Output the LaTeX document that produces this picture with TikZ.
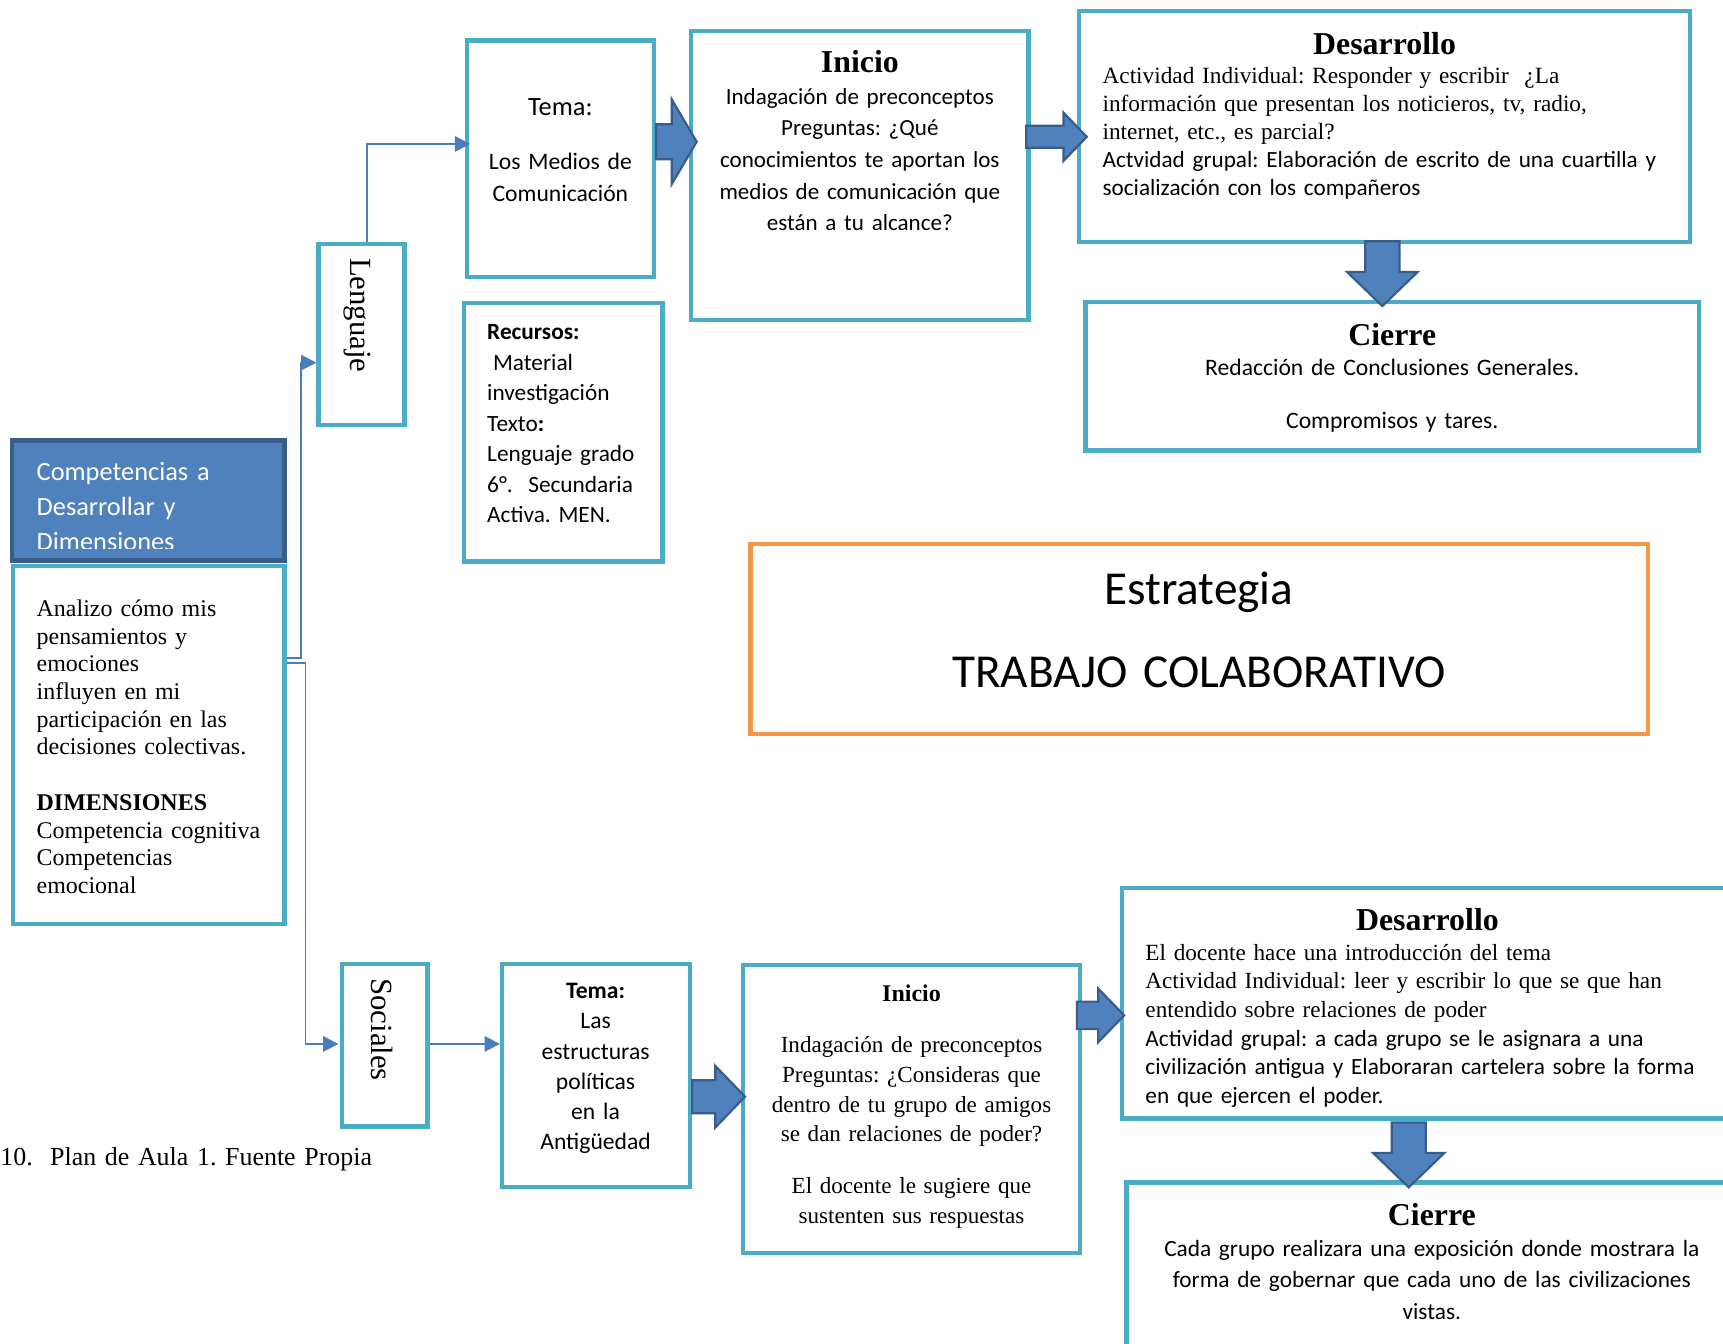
\documentclass[tikz,border=0pt]{standalone}
\usepackage{fontspec}
\setmainfont{Liberation Serif}
\setsansfont{Carlito}
\frenchspacing
\usetikzlibrary{arrows.meta,shapes.arrows,fit}
\definecolor{boxteal}{HTML}{4BACC6}
\definecolor{linkblue}{HTML}{4A7EBB}
\definecolor{arrowfill}{HTML}{4F81BD}
\definecolor{arrowline}{HTML}{385D8A}
\definecolor{stratorange}{HTML}{F79646}
\begin{document}
\begin{tikzpicture}[x=0.5pt,y=-0.5pt,
	tbox/.style={draw=boxteal,line width=2pt,inner sep=0pt},
	link/.style={draw=linkblue,line width=0.8pt,-{Triangle[length=7pt,width=7pt]}},
	bigarrow/.style={single arrow,draw=arrowline,fill=arrowfill,line width=1pt,inner xsep=0pt,anchor=tail,single arrow tip angle=92},
	ltxt/.style={inner sep=0pt,anchor=base west,align=left,text width=600pt},
	ctxt/.style={inner sep=0pt,anchor=base,align=center,text width=300pt}]
			\useasboundingbox (0,0) rectangle (1568,1223);
			\clip (0,0) rectangle (1568,1223);
			% rama Lenguaje
			\node[tbox,fit={(290,222) (368,387)}](leng){};
			\node[rotate=-90,font=\fontsize{14}{14}\selectfont] (lengtxt) at(325,287){Lenguaje};
			\node[tbox,fit={(425,37) (595,252)}](temaL){};
			\node[ctxt,font=\sffamily\fontsize{10.75}{14.5}\selectfont] (temaLtxt) at(510,105){{\fontsize{12}{14.5}\selectfont Tema:}\\[10.25pt]Los Medios de\\Comunicación};
			\node[tbox,fit={(422,276) (603,511)}](recur){};
			\node[ltxt,font=\sffamily\fontsize{10.6}{13.9}\selectfont] (recurtxt) at(443,309){\textbf{Recursos:}\\\hspace*{0.25em}Material\\investigación\\Texto\textbf{:}\\Lenguaje grado\\6°.\ \ Secundaria\\Activa. MEN.};
			\node[tbox,fit={(629,28) (936,291)}](inicioL){};
			\node[ctxt,font=\sffamily\fontsize{10.5}{14.4}\selectfont] (inicioLtxt) at(782.5,66){{\rmfamily\bfseries\fontsize{14.5}{14.4}\selectfont Inicio}\\Indagación de preconceptos\\Preguntas: ¿Qué\\conocimientos te aportan los\\medios de comunicación que\\están a tu alcance?};
			\node[tbox,fit={(982,10) (1538,220)}](desL){};
			\node[ctxt,font=\bfseries\fontsize{14.5}{14.5}\selectfont] (desLtit) at(1260,50){Desarrollo};
			\node[ltxt,font=\fontsize{10.6}{12.75}\selectfont] (desLtxt) at(1003,76){Actividad Individual: Responder y escribir ~¿La\\información que presentan los noticieros, tv, radio,\\internet, etc., es parcial?\\{\sffamily\fontsize{10.55}{12.75}\selectfont Actvidad grupal: Elaboración de escrito de una cuartilla y}\\{\sffamily\fontsize{10.55}{12.75}\selectfont socialización con los compañeros}};
			\node[tbox,fit={(988,275) (1546,410)}](cierreL){};
			\node[ctxt,font=\sffamily\fontsize{10.75}{14}\selectfont] (cierreLtxt) at(1267,314){{\rmfamily\bfseries\fontsize{14.5}{14}\selectfont Cierre}\\Redacción de Conclusiones Generales.\\[10pt]Compromisos y tares.};
			\node[bigarrow,minimum height=18.5pt,inner ysep=7.5pt,single arrow head extend=11.25pt,single arrow tip angle=119] (a1) at(596,129){};
			\node[bigarrow,minimum height=27.5pt,inner ysep=4.5pt,single arrow head extend=6pt] (a2) at(933,124.5){};
			\node[bigarrow,rotate=-90,minimum height=29.5pt,inner ysep=7.25pt,single arrow head extend=8.25pt] (a3) at(1258,218.5){};
			% competencias
			\node[draw=arrowline,fill=arrowfill,line width=2pt,inner sep=0pt,fit={(11,401) (259,510)}](comphead){};
			\begin{scope}
			\clip (13,403) rectangle (257,499);
			\node[ltxt,text=white,font=\sffamily\fontsize{12}{16}\selectfont] (compheadtxt) at(33,437){Competencias a\\Desarrollar y\\Dimensiones};
			\end{scope}
			\node[tbox,fit={(12,515) (259,841)}](compbody){};
			\node[ltxt,font=\fontsize{10.9}{12.6}\selectfont] (compbodytxt) at(33,561){Analizo cómo mis\\pensamientos y\\emociones\\influyen en mi\\participación en las\\decisiones colectivas.\\[12.6pt]\textbf{DIMENSIONES}\\Competencia cognitiva\\Competencias\\emocional};
			\draw[link](compbody.east |- 0,599)--(274,599)--(274,330)--(leng.west |- 0,330);
			\draw[link](compbody.east |- 0,603)--(278,603)--(278,950)--(308,950);
			\draw[link](334,0 |- leng.north) |- ([xshift=2.5pt]temaL.west |- 0,131);
			% estrategia
			\node[draw=stratorange,line width=2pt,inner sep=0pt,fit={(683,495) (1500,668)}](estr){};
			\node[ctxt,font=\sffamily\fontsize{21.5}{38}\selectfont,text width=700pt] (estrtxt) at(1091,550){Estrategia\\TRABAJO COLABORATIVO};
			% rama Sociales
			\node[tbox,fit={(311,877) (389,1025)}](soc){};
			\node[rotate=-90,font=\fontsize{14}{14}\selectfont] (soctxt) at(348,937){Sociales};
			\node[tbox,fit={(457,877) (628,1080)}](temaS){};
			\node[ctxt,font=\sffamily\fontsize{10.75}{13.7}\selectfont] (temaStxt) at(542,909){\textbf{Tema:}\\Las\\estructuras\\políticas\\en la\\Antigüedad};
			\draw[link](soc.east |- 0,950)--(temaS.west |- 0,950);
			\node[tbox,fit={(676,878) (983,1140)}](inicioS){};
			\node[ctxt,font=\fontsize{10.5}{13.5}\selectfont] (inicioStxt) at(829.5,911){{\fontsize{10.9}{13.5}\selectfont\bfseries Inicio}\\[10pt]Indagación de preconceptos\\Preguntas: ¿Consideras que\\dentro de tu grupo de amigos\\se dan relaciones de poder?\\[10pt]El docente le sugiere que\\sustenten sus respuestas};
			\node[tbox,fit={(1021,808) (1600,1018)}](desS){};
			\node[ctxt,font=\bfseries\fontsize{14.5}{14.5}\selectfont] (desStit) at(1299,847){Desarrollo};
			\node[ltxt,font=\fontsize{10.55}{13}\selectfont] (desStxt) at(1042,874){El docente hace una introducción del tema\\Actividad Individual: leer y escribir lo que se que han\\entendido sobre relaciones de poder\\{\sffamily\fontsize{10.6}{13}\selectfont Actividad grupal: a cada grupo se le asignara a una}\\{\sffamily\fontsize{10.6}{13}\selectfont civilización antigua y Elaboraran cartelera sobre la forma}\\{\sffamily\fontsize{10.6}{13}\selectfont en que ejercen el poder.}};
			\node[tbox,fit={(1025,1076) (1600,1240)}](cierreS){};
			\node[ctxt,font=\sffamily\fontsize{10.6}{14.25}\selectfont] (cierreStxt) at(1303,1115){{\rmfamily\bfseries\fontsize{14.5}{14.25}\selectfont Cierre}\\Cada grupo realizara una exposición donde mostrara la\\forma de gobernar que cada uno de las civilizaciones\\vistas.};
			\node[bigarrow,minimum height=24pt,inner ysep=7pt,single arrow head extend=6.5pt] (a4) at(629,998){};
			\node[bigarrow,minimum height=21.5pt,inner ysep=5.75pt,single arrow head extend=6pt] (a5) at(979,924){};
			\node[bigarrow,rotate=-90,minimum height=29.5pt,inner ysep=7.25pt,single arrow head extend=8.5pt] (a6) at(1282,1020.5){};
			% pie
			\node[ltxt,font=\fontsize{11.8}{12}\selectfont] (pie) at(0,1061){10.\ \ Plan de Aula 1. Fuente Propia};
\end{tikzpicture}
\end{document}
